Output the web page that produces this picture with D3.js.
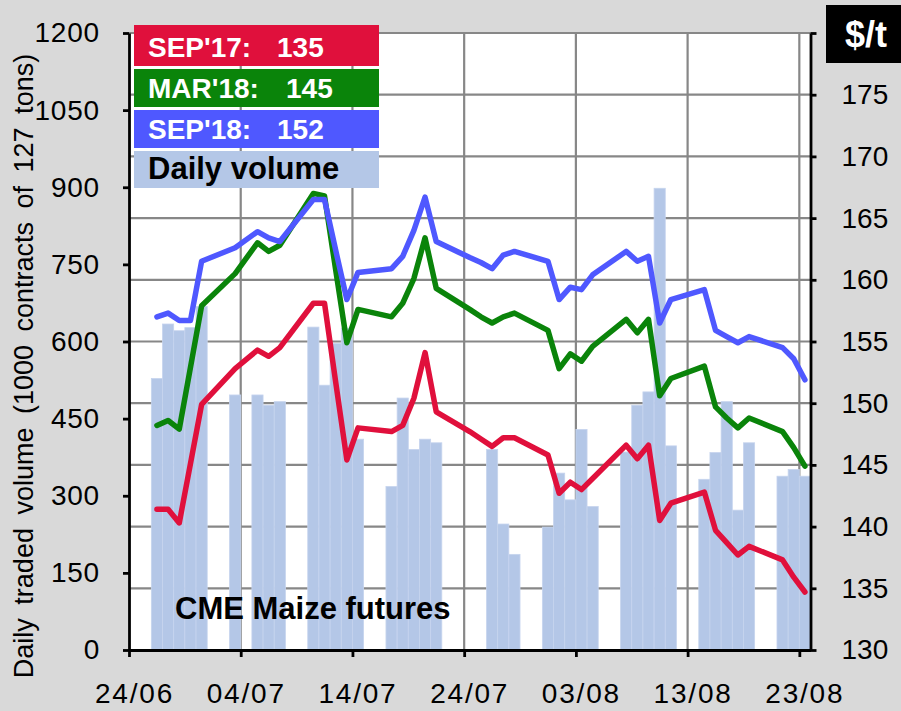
<!DOCTYPE html>
<html>
<head>
<meta charset="utf-8">
<script src="https://cdn.jsdelivr.net/npm/d3@7"></script>
<style>
  html, body { margin: 0; padding: 0; background: #d9d9d9; }
  svg { display: block; }
  text { font-family: "Liberation Sans", Arial, sans-serif; }
</style>
</head>
<body>
<svg id="chart" width="901" height="711"></svg>
<script>
// ---------- data ----------
const dates = ["2017-06-26","2017-06-27","2017-06-28","2017-06-29","2017-06-30",
  "2017-07-03","2017-07-05","2017-07-06","2017-07-07",
  "2017-07-10","2017-07-11","2017-07-12","2017-07-13","2017-07-14",
  "2017-07-17","2017-07-18","2017-07-19","2017-07-20","2017-07-21",
  "2017-07-24","2017-07-25","2017-07-26","2017-07-27","2017-07-28",
  "2017-07-31","2017-08-01","2017-08-02","2017-08-03","2017-08-04",
  "2017-08-07","2017-08-08","2017-08-09","2017-08-10","2017-08-11",
  "2017-08-14","2017-08-15","2017-08-16","2017-08-17","2017-08-18",
  "2017-08-21","2017-08-22","2017-08-23"];
const volume = [528,634,621,627,668,
  496,496,476,483,
  628,515,596,626,410,
  318,490,390,410,403,
  null,null,390,245,186,
  239,344,292,429,279,
  385,476,502,898,397,
  332,384,483,272,403,
  338,351,338];
const sep17 = [141.4,141.4,140.3,145.1,149.9,
  152.8,154.3,153.8,154.5,
  158.1,158.1,151.7,145.4,148.0,
  147.7,148.2,150.4,154.1,149.3,
  147.7,147.1,146.5,147.2,147.2,
  145.8,142.7,143.6,143.0,143.9,
  146.6,145.5,146.6,140.5,141.9,
  142.8,139.7,138.7,137.7,138.4,
  137.3,135.9,134.7];
const mar18 = [148.2,148.6,147.9,152.9,157.9,
  160.5,163.0,162.3,162.8,
  167.0,166.8,160.8,154.9,157.6,
  157.0,158.1,160.1,163.4,159.3,
  157.6,157.0,156.5,157.0,157.3,
  155.9,152.8,154.0,153.4,154.6,
  156.8,155.7,156.8,150.6,152.0,
  153.0,149.7,148.8,148.0,148.8,
  147.7,146.4,144.9];
const sep18 = [157.0,157.3,156.7,156.7,161.5,
  162.6,163.9,163.4,163.1,
  166.5,166.5,162.4,158.4,160.6,
  160.9,161.9,164.0,166.7,163.1,
  161.8,161.4,160.9,162.0,162.3,
  161.5,158.4,159.4,159.2,160.4,
  162.3,161.5,161.9,156.5,158.4,
  159.2,155.9,155.4,154.9,155.4,
  154.5,153.6,151.9];
const leftTicks = [0,150,300,450,600,750,900,1050,1200];
const rightTicks = [130,135,140,145,150,155,160,165,170,175,180];
const xTicks = ["2017-06-24","2017-07-04","2017-07-14","2017-07-24","2017-08-03","2017-08-13","2017-08-23"];
const legendNames = ["SEP'17:","MAR'18:","SEP'18:","Daily volume"];
const legendValues = ["135","145","152",""];
const seriesNames = ["SEP'17","MAR'18","SEP'18"];
const yLabel = "Daily traded volume (1000 contracts of 127 tons)";
const unitLabel = "$/t";
const noteLabel = "CME Maize futures";

// ---------- styles ----------
const colors = { sep17: "#e0103c", mar18: "#0a840a", sep18: "#4f58ff", vol: "#b4c7e7", volEdge: "#c6d4ee" };
const lineColors = [colors.sep17, colors.mar18, colors.sep18];

const parse = d3.utcParse("%Y-%m-%d");
const DAY = 864e5;
const svg = d3.select("#chart");
const W = 901, H = 711;
const L = 129, R = 810.5, T = 33, B = 650;

svg.append("rect").attr("width", W).attr("height", H).attr("fill", "#d9d9d9");
svg.append("rect").attr("x", L).attr("y", T).attr("width", R - L).attr("height", B - T).attr("fill", "#ffffff");

const x = d3.scaleUtc().domain([parse("2017-06-24"), parse("2017-08-24")]).range([L, R]);
const yL = d3.scaleLinear().domain([0, 1200]).range([B, T]);
const yR = d3.scaleLinear().domain([130, 180]).range([B, T]);

const rows = dates.map((d, i) => ({ date: parse(d), vol: volume[i], s: [sep17[i], mar18[i], sep18[i]] }));
const xTickDates = xTicks.map(parse);

// gridlines
const grid = svg.append("g").attr("stroke", "#878787").attr("stroke-width", 2.2);
grid.selectAll("line.h").data(rightTicks.filter(v => v > 130)).join("line")
  .attr("x1", L).attr("x2", R).attr("y1", d => yR(d)).attr("y2", d => yR(d));
grid.selectAll("line.v").data(xTickDates.slice(1)).join("line")
  .attr("x1", d => x(d)).attr("x2", d => x(d)).attr("y1", T).attr("y2", B);

// bars
svg.append("g").selectAll("rect").data(rows.filter(r => r.vol != null)).join("rect")
  .attr("x", d => x(d.date))
  .attr("width", d => x(new Date(+d.date + DAY)) - x(d.date))
  .attr("y", d => yL(d.vol))
  .attr("height", d => B - yL(d.vol))
  .attr("fill", colors.vol)
  .attr("stroke", colors.volEdge)
  .attr("stroke-width", 0.8);

// note text
svg.append("text").attr("x", 175).attr("y", 619).attr("font-size", 31).attr("font-weight", "bold")
  .attr("fill", "#000").text(noteLabel);

// lines
const line = d3.line().x(d => x(new Date(+d.date + DAY / 2))).y(d => d.v);
seriesNames.forEach((name, k) => {
  const pts = rows.map(r => ({ date: r.date, v: yR(r.s[k]) }));
  svg.append("path").datum(pts)
    .attr("d", line)
    .attr("fill", "none")
    .attr("stroke", lineColors[k])
    .attr("stroke-width", 5.5)
    .attr("stroke-linejoin", "round")
    .attr("stroke-linecap", "round");
});

// axes
const axL = svg.append("g").attr("transform", `translate(${L},0)`)
  .call(d3.axisLeft(yL).tickValues(leftTicks).tickSize(6).tickPadding(23).tickSizeOuter(0)
    .tickFormat(d3.format("d")));
const axR = svg.append("g").attr("transform", `translate(${R},0)`)
  .call(d3.axisRight(yR).tickValues(rightTicks).tickSize(6).tickPadding(25).tickSizeOuter(0)
    .tickFormat(d => d === 180 ? "" : d3.format("d")(d)));
const axB = svg.append("g").attr("transform", `translate(0,${B})`)
  .call(d3.axisBottom(x).tickValues(xTickDates).tickSize(7).tickSizeOuter(0)
    .tickFormat(d3.utcFormat("%d/%m")));

[axL, axR, axB].forEach(g => {
  g.select(".domain").attr("stroke", "#000").attr("stroke-width", 2.8);
  g.selectAll(".tick line").attr("stroke", "#000").attr("stroke-width", 2.8);
  g.selectAll(".tick text").attr("font-family", "Liberation Sans, Arial, sans-serif")
    .attr("font-size", 28).attr("fill", "#000");
});
axB.selectAll(".tick text").attr("dy", 0).attr("y", 53).attr("dx", 5).attr("letter-spacing", 1.8);
axL.selectAll(".tick text").attr("letter-spacing", 0.8);

// left axis title
svg.append("text")
  .attr("transform", "translate(33,366) rotate(-90)")
  .attr("text-anchor", "middle")
  .attr("font-size", 27)
  .attr("word-spacing", 6)
  .attr("fill", "#000")
  .text(yLabel);

// $/t box
svg.append("rect").attr("x", 826).attr("y", 5).attr("width", 75).attr("height", 58).attr("fill", "#000");
svg.append("text").attr("x", 866).attr("y", 47).attr("text-anchor", "middle")
  .attr("font-size", 36).attr("font-weight", "bold").attr("fill", "#fff").text(unitLabel);

// legend
const legendFill = [colors.sep17, colors.mar18, colors.sep18, colors.vol];
const legendTop = [25, 69, 110, 151];
const legendH = [41, 38, 38, 37];
const legendSize = [28, 28, 28, 31];
const valueX = [277, 286, 277, 0];
const lg = svg.append("g");
legendNames.forEach((name, i) => {
  lg.append("rect").attr("x", 134).attr("y", legendTop[i]).attr("width", 245).attr("height", legendH[i])
    .attr("fill", legendFill[i]);
  const tc = i === 3 ? "#000" : "#fff";
  const base = legendTop[i] + legendH[i] - 9;
  lg.append("text").attr("x", 148).attr("y", base).attr("font-size", legendSize[i]).attr("font-weight", "bold")
    .attr("fill", tc).text(name);
  if (legendValues[i]) {
    lg.append("text").attr("x", valueX[i]).attr("y", base).attr("font-size", legendSize[i]).attr("font-weight", "bold")
      .attr("fill", tc).text(legendValues[i]);
  }
});
</script>
</body>
</html>
